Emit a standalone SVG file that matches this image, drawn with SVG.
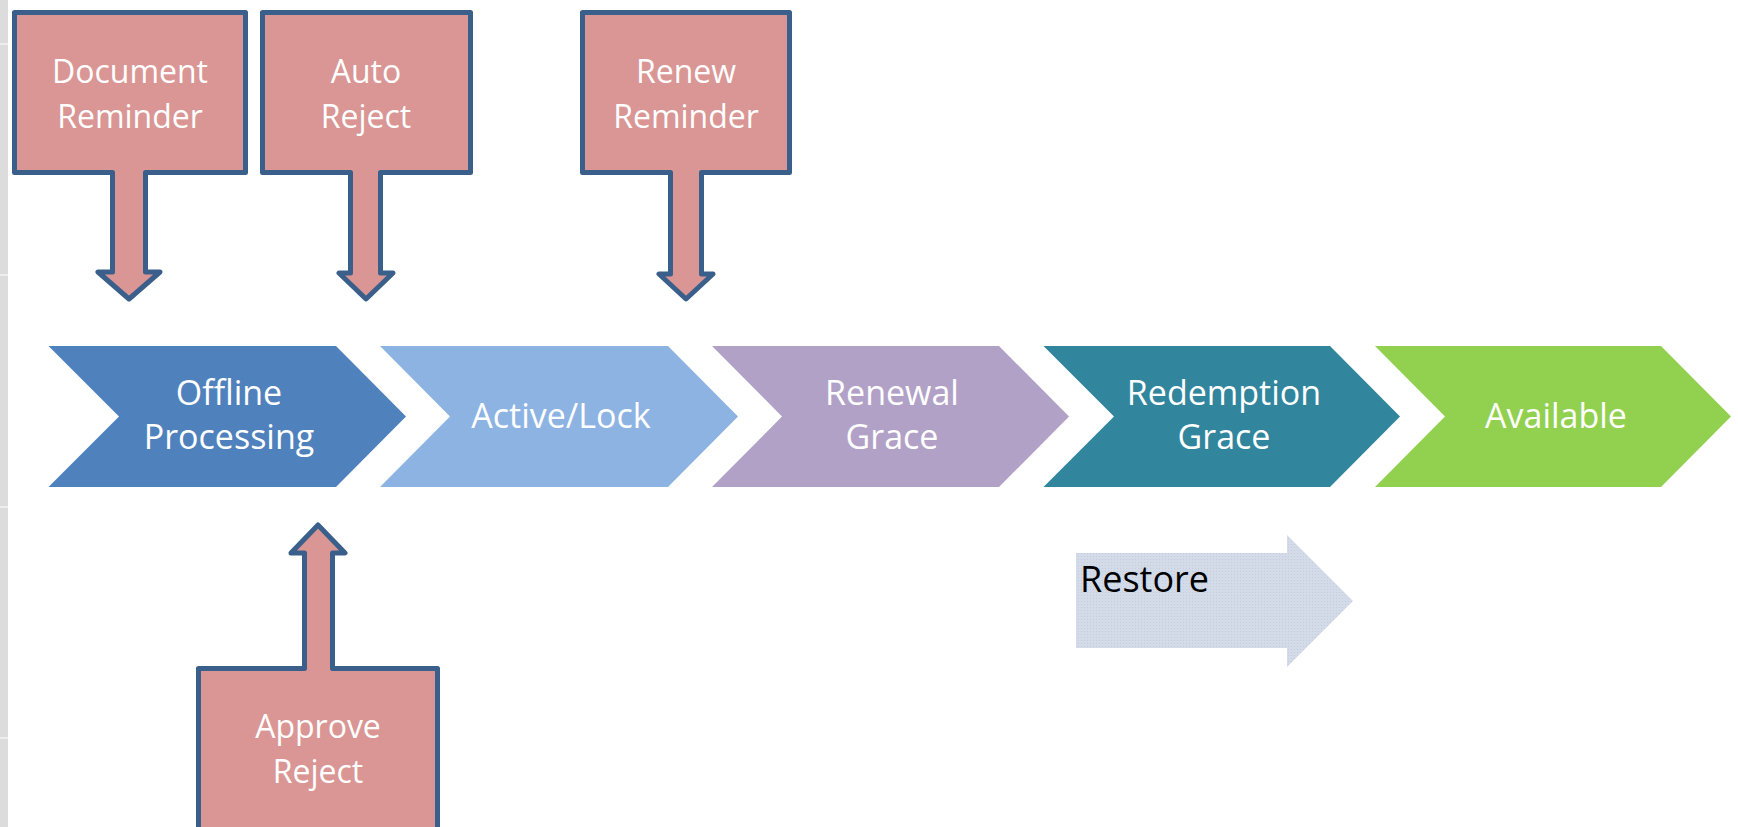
<svg xmlns="http://www.w3.org/2000/svg" width="1738" height="827" viewBox="0 0 1738 827">
<defs>
<style>
.box{fill:#D99694;stroke:#3A5F8B;stroke-width:5;stroke-linejoin:round}
.wt{fill:#FFFFFF;font-family:"Open Sans","Liberation Sans",sans-serif;text-anchor:middle}
.bt{font-size:32px}
.ct{font-size:34px}
.rt{fill:#000000;font-family:"Open Sans","Liberation Sans",sans-serif;font-size:36px}
</style>
<pattern id="dots" width="3" height="3" patternUnits="userSpaceOnUse">
<rect width="3" height="3" fill="#D3DBE9"/>
<rect x="1" y="1" width="1" height="1" fill="#C4CDDE"/>
</pattern>
</defs>
<rect width="1738" height="827" fill="#FFFFFF"/>
<g id="edge-strip">
<rect x="0" y="0" width="8" height="827" fill="#DCDCDC"/>
<g stroke="#F4F4F4" stroke-width="1.5">
<line x1="0" y1="44" x2="8" y2="44"/>
<line x1="0" y1="275" x2="8" y2="275"/>
<line x1="0" y1="507" x2="8" y2="507"/>
<line x1="0" y1="738" x2="8" y2="738"/>
</g>
</g>
<g id="chevrons">
<g id="offline-processing">
<path d="M48.5,346 H336 L406,416.5 L336,487 H48.5 L119,416.5 Z" fill="#4F81BD"/>
<text class="wt ct" x="229" y="405">Offline</text>
<text class="wt ct" x="229" y="449">Processing</text>
</g>
<g id="active-lock">
<path d="M380,346 H668 L738,416.5 L668,487 H380 L450,416.5 Z" fill="#8DB3E2"/>
<text class="wt ct" x="561" y="428">Active/Lock</text>
</g>
<g id="renewal-grace">
<path d="M712,346 H999 L1069,416.5 L999,487 H712 L782,416.5 Z" fill="#B2A1C7"/>
<text class="wt ct" x="892" y="405">Renewal</text>
<text class="wt ct" x="892" y="449">Grace</text>
</g>
<g id="redemption-grace">
<path d="M1043.5,346 H1330 L1400,416.5 L1330,487 H1043.5 L1114,416.5 Z" fill="#31859C"/>
<text class="wt ct" x="1224" y="405">Redemption</text>
<text class="wt ct" x="1224" y="449">Grace</text>
</g>
<g id="available">
<path d="M1375,346 H1661 L1731,416.5 L1661,487 H1375 L1445,416.5 Z" fill="#92D050"/>
<text class="wt ct" x="1556" y="428">Available</text>
</g>
</g>
<g id="document-reminder">
<path class="box" d="M14.5,12.5 H245.5 V172.5 H145.5 V272 H160 L129,299 L98,272 H112.5 V172.5 H14.5 Z"/>
<text class="wt bt" x="130" y="83">Document</text>
<text class="wt bt" x="130" y="128">Reminder</text>
</g>
<g id="auto-reject">
<path class="box" d="M262.5,12.5 H470.5 V172.5 H380.5 V273 H393 L366,299 L339,273 H350.5 V172.5 H262.5 Z"/>
<text class="wt bt" x="366" y="83">Auto</text>
<text class="wt bt" x="366" y="128">Reject</text>
</g>
<g id="renew-reminder">
<path class="box" d="M582.5,12.5 H789.5 V172.5 H701.5 V274 H713 L686,299 L659,274 H670.5 V172.5 H582.5 Z"/>
<text class="wt bt" x="686" y="83">Renew</text>
<text class="wt bt" x="686" y="128">Reminder</text>
</g>
<g id="approve-reject">
<path class="box" d="M198.5,840 V668.5 H304.5 V553 H291 L318,525 L345,553 H332.5 V668.5 H437.5 V840 Z"/>
<text class="wt bt" x="318" y="738">Approve</text>
<text class="wt bt" x="318" y="783">Reject</text>
</g>
<g id="restore">
<path d="M1076,553 H1287 V535 L1353,601 L1287,667 V648 H1076 Z" fill="url(#dots)"/>
<text class="rt" x="1080" y="592">Restore</text>
</g>
<g id="connectors"></g>
</svg>
